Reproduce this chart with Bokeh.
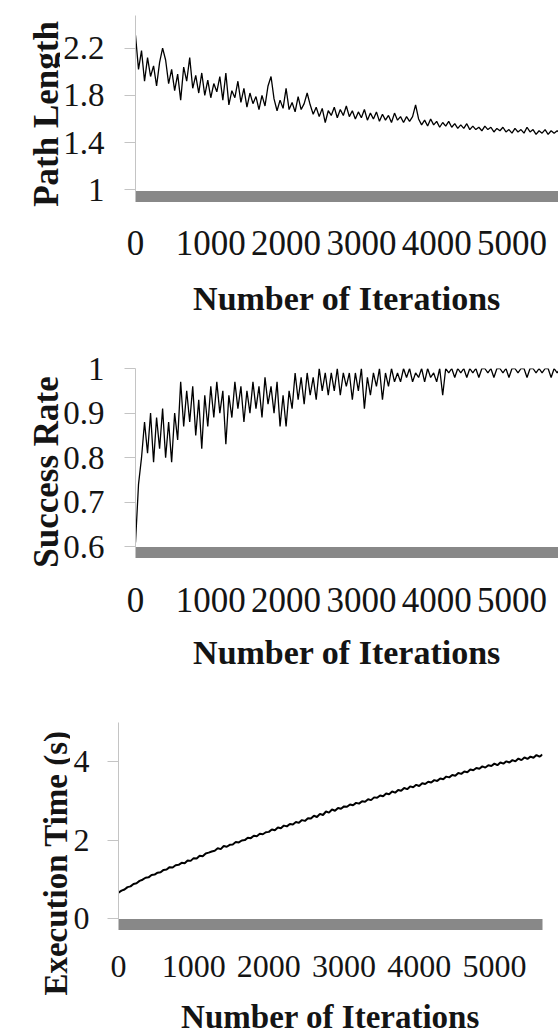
import math
from bokeh.plotting import figure
from bokeh.layouts import column, row
from bokeh.models import Range1d, FixedTicker, CustomJSTickFormatter, Plot
from bokeh.core.properties import value
from bokeh.embed import file_html
from bokeh.resources import INLINE

# ---------------- data ----------------
iterations = list(range(0, 5641, 40))

path_length = [
    2.31, 2.02, 2.18, 1.92, 2.12, 1.96, 2.05, 1.88, 2.08, 2.20,
    2.10, 1.90, 2.02, 1.84, 1.98, 1.76, 2.04, 1.92, 2.12, 1.86,
    1.97, 1.82, 1.99, 1.80, 1.93, 1.78, 1.90, 1.83, 1.96, 1.76,
    1.99, 1.72, 1.84, 1.78, 1.92, 1.74, 1.86, 1.70, 1.82, 1.73,
    1.79, 1.68, 1.80, 1.71, 1.88, 1.96, 1.77, 1.67, 1.76, 1.69,
    1.86, 1.68, 1.74, 1.66, 1.79, 1.68, 1.73, 1.82, 1.72, 1.64,
    1.70, 1.62, 1.69, 1.57, 1.67, 1.63, 1.70, 1.61, 1.68, 1.63,
    1.71, 1.62, 1.67, 1.60, 1.66, 1.61, 1.68, 1.59, 1.65, 1.60,
    1.66, 1.58, 1.64, 1.59, 1.63, 1.57, 1.65, 1.59, 1.62, 1.57,
    1.62, 1.58, 1.62, 1.72, 1.60, 1.55, 1.59, 1.54, 1.60, 1.55,
    1.58, 1.53, 1.57, 1.54, 1.58, 1.53, 1.56, 1.52, 1.55, 1.52,
    1.56, 1.51, 1.54, 1.51, 1.53, 1.50, 1.54, 1.51, 1.53, 1.49,
    1.52, 1.50, 1.53, 1.49, 1.51, 1.48, 1.52, 1.49, 1.51, 1.48,
    1.53, 1.49, 1.51, 1.47, 1.50, 1.48, 1.51, 1.47, 1.50, 1.48,
    1.50, 1.48,
]

success_rate = [
    0.61, 0.74, 0.80, 0.88, 0.81, 0.90, 0.79, 0.89, 0.82, 0.91,
    0.80, 0.88, 0.79, 0.90, 0.84, 0.97, 0.87, 0.95, 0.88, 0.96,
    0.85, 0.93, 0.82, 0.94, 0.87, 0.96, 0.89, 0.97, 0.90, 0.95,
    0.83, 0.94, 0.89, 0.97, 0.91, 0.96, 0.88, 0.95, 0.90, 0.97,
    0.91, 0.96, 0.89, 0.98, 0.92, 0.96, 0.90, 0.97, 0.87, 0.94,
    0.87, 0.95, 0.91, 0.99, 0.93, 0.98, 0.92, 0.99, 0.94, 0.98,
    0.93, 1.00, 0.95, 0.99, 0.94, 0.99, 0.95, 1.00, 0.94, 0.99,
    0.96, 0.99, 0.93, 0.99, 0.95, 1.00, 0.91, 0.98, 0.94, 0.99,
    0.96, 1.00, 0.93, 0.99, 0.96, 1.00, 0.97, 0.99, 0.97, 1.00,
    0.98, 1.00, 0.97, 0.99, 0.98, 1.00, 0.97, 1.00, 0.98, 0.99,
    0.97, 1.00, 0.94, 1.00, 0.99, 1.00, 0.98, 1.00, 0.99, 1.00,
    0.98, 1.00, 0.99, 1.00, 0.98, 1.00, 1.00, 0.99, 1.00, 0.98,
    1.00, 1.00, 0.99, 1.00, 0.98, 1.00, 1.00, 0.99, 1.00, 1.00,
    0.98, 1.00, 1.00, 0.99, 1.00, 0.99, 1.00, 1.00, 0.98, 1.00,
    0.99, 1.00,
]

execution_time = [
    0.66, 0.71, 0.74, 0.80, 0.82, 0.88, 0.90, 0.96, 0.99, 1.04,
    1.05, 1.11, 1.12, 1.17, 1.18, 1.24, 1.25, 1.31, 1.30, 1.36,
    1.37, 1.42, 1.41, 1.48, 1.47, 1.54, 1.53, 1.60, 1.59, 1.66,
    1.68, 1.71, 1.73, 1.79, 1.77, 1.85, 1.83, 1.88, 1.89, 1.95,
    1.94, 1.99, 2.00, 2.06, 2.05, 2.11, 2.10, 2.16, 2.15, 2.20,
    2.21, 2.27, 2.25, 2.32, 2.30, 2.37, 2.35, 2.41, 2.40, 2.46,
    2.44, 2.51, 2.49, 2.56, 2.55, 2.62, 2.59, 2.67, 2.64, 2.73,
    2.70, 2.78, 2.75, 2.82, 2.80, 2.86, 2.85, 2.91, 2.89, 2.95,
    2.93, 2.99, 2.98, 3.04, 3.02, 3.09, 3.08, 3.14, 3.12, 3.19,
    3.17, 3.24, 3.21, 3.28, 3.26, 3.33, 3.30, 3.37, 3.35, 3.41,
    3.38, 3.45, 3.43, 3.49, 3.47, 3.53, 3.51, 3.57, 3.55, 3.62,
    3.60, 3.66, 3.64, 3.71, 3.69, 3.75, 3.73, 3.80, 3.78, 3.84,
    3.82, 3.88, 3.85, 3.91, 3.89, 3.95, 3.91, 3.98, 3.95, 4.01,
    3.98, 4.04, 4.01, 4.08, 4.04, 4.11, 4.07, 4.13, 4.10, 4.17,
    4.13, 4.18,
]

x_ticks = [0, 1000, 2000, 3000, 4000, 5000]
path_ticks = [1, 1.4, 1.8, 2.2]
success_ticks = [0.6, 0.7, 0.8, 0.9, 1]
time_ticks = [0, 2, 4]

x_title = "Number of Iterations"
y_titles = ["Path Length", "Success Rate", "Execution Time (s)"]

# ---------------- styling ----------------
SERIF = "Liberation Serif"
TXT = "#141414"
BAR = "#888888"
AXIS = "#c4c4c4"
TOTAL_W = 558

NO_ALIGN = {"frame_align": False} if "frame_align" in Plot.properties() else {}

fmt = CustomJSTickFormatter(code="return String(tick)")


def text_strip(text, *, width, height, x_px, y_px, font, angle, baseline):
    """Axis-free figure in pixel units that holds one title text."""
    t = figure(width=width, height=height, output_backend="svg",
               toolbar_location=None, tools="",
               x_range=Range1d(0, width), y_range=Range1d(height, 0),
               x_axis_type=None, y_axis_type=None,
               min_border=0, min_border_left=0, min_border_right=0,
               min_border_top=0, min_border_bottom=0, **NO_ALIGN)
    t.outline_line_color = None
    t.xgrid.visible = False
    t.ygrid.visible = False
    t.text(x=[x_px], y=[y_px], text=[text], angle=angle,
           text_align="center", text_baseline=baseline,
           text_font=value(SERIF), text_font_style="bold",
           text_font_size=f"{font}px", text_color=TXT)
    return t


def make_panel(xv, yv, yticks, ytitle, *, height, x_end, y_start, y_end,
               strip_w, frame_left, border_top, border_bottom, border_right,
               tick_font, ytick_font, ytick_standoff, xtick_standoff,
               title_font, ytitle_font, xtitle_standoff,
               ytitle_baseline, ytitle_center, line_w, with_xtitle=True):
    w = TOTAL_W - strip_w
    p = figure(width=w, height=height, output_backend="svg",
               toolbar_location=None, tools="",
               x_range=Range1d(0, x_end), y_range=Range1d(y_start, y_end),
               min_border_left=frame_left - strip_w, min_border_right=border_right,
               min_border_top=border_top, min_border_bottom=border_bottom,
               **NO_ALIGN)
    p.outline_line_color = None
    p.xgrid.visible = False
    p.ygrid.visible = False

    p.line(xv, yv, line_color="black", line_width=line_w)

    xa = p.xaxis[0]
    xa.ticker = FixedTicker(ticks=x_ticks)
    xa.axis_line_color = BAR
    xa.axis_line_width = 11
    xa.major_tick_out = 0
    xa.major_tick_in = 0
    xa.minor_tick_out = 0
    xa.minor_tick_in = 0
    xa.major_label_text_font = SERIF
    xa.major_label_text_font_size = f"{tick_font}px"
    xa.major_label_text_color = TXT
    xa.major_label_standoff = xtick_standoff
    if with_xtitle:
        xa.axis_label = x_title
        xa.axis_label_text_font = SERIF
        xa.axis_label_text_font_style = "bold"
        xa.axis_label_text_font_size = f"{title_font}px"
        xa.axis_label_text_color = TXT
        xa.axis_label_standoff = xtitle_standoff

    ya = p.yaxis[0]
    ya.ticker = FixedTicker(ticks=yticks)
    ya.formatter = fmt
    ya.axis_line_color = AXIS
    ya.axis_line_width = 1
    ya.major_tick_line_color = AXIS
    ya.major_tick_out = 11
    ya.major_tick_in = 0
    ya.minor_tick_out = 0
    ya.minor_tick_in = 0
    ya.major_label_text_font = SERIF
    ya.major_label_text_font_size = f"{ytick_font}px"
    ya.major_label_text_color = TXT
    ya.major_label_standoff = ytick_standoff

    strip = text_strip(ytitle, width=strip_w, height=height,
                       x_px=ytitle_baseline, y_px=ytitle_center,
                       font=ytitle_font, angle=math.pi / 2, baseline="alphabetic")
    return row(strip, p, spacing=0)


# panel 1: page y 0-330, frame 15-196
panel1 = make_panel(iterations, path_length, path_ticks, y_titles[0],
                    height=330, x_end=5618, y_start=0.943, y_end=2.477,
                    strip_w=60, frame_left=135, border_top=15, border_bottom=134,
                    border_right=0,
                    tick_font=35, ytick_font=33, ytick_standoff=20, xtick_standoff=34,
                    title_font=34, ytitle_font=35, xtitle_standoff=22,
                    ytitle_baseline=46, ytitle_center=113.5, line_w=1.3)

# panel 2: page y 330-685, frame 368-552
panel2 = make_panel(iterations, success_rate, success_ticks, y_titles[1],
                    height=355, x_end=5618, y_start=0.5874, y_end=1.0,
                    strip_w=60, frame_left=135, border_top=38, border_bottom=133,
                    border_right=0,
                    tick_font=35, ytick_font=33, ytick_standoff=20, xtick_standoff=35,
                    title_font=34, ytitle_font=35, xtitle_standoff=19,
                    ytitle_baseline=46, ytitle_center=141.5, line_w=1.3)

# panel 3: page y 685-995, frame 722-924; its x title sits in a strip below
panel3 = make_panel(iterations, execution_time, time_ticks, y_titles[2],
                    height=310, x_end=5640, y_start=-0.153, y_end=5.0,
                    strip_w=70, frame_left=118, border_top=37, border_bottom=71,
                    border_right=16,
                    tick_font=32, ytick_font=32, ytick_standoff=18, xtick_standoff=31,
                    title_font=33, ytitle_font=33, xtitle_standoff=0,
                    ytitle_baseline=55, ytitle_center=177.5, line_w=2.0,
                    with_xtitle=False)

# page y 995-1035: x title of panel 3, centred on that panel's frame
xtitle3 = text_strip(x_title, width=TOTAL_W, height=40, x_px=(118 + 542) / 2,
                     y_px=21, font=33, angle=0, baseline="middle")

layout = column(panel1, panel2, panel3, xtitle3, spacing=0)
open("out.html", "w").write(file_html(layout, INLINE))
